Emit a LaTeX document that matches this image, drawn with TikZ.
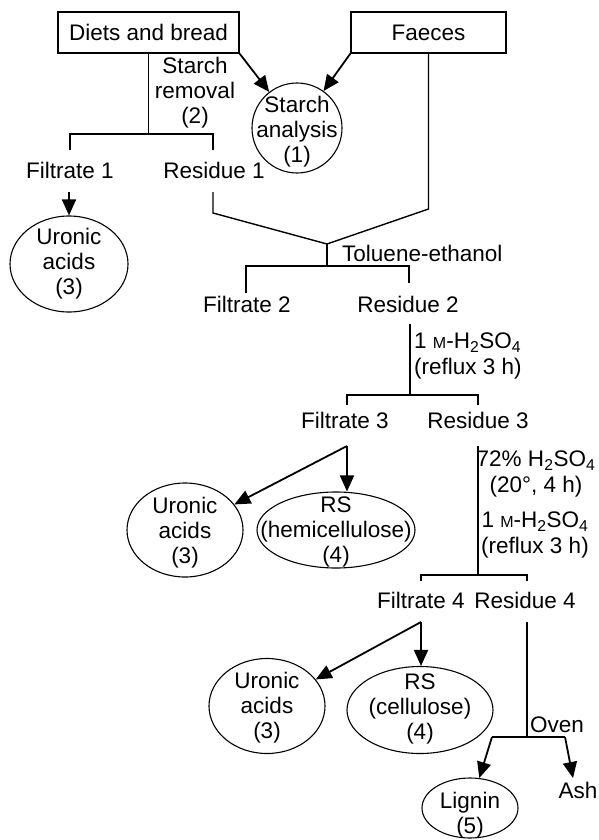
\documentclass[tikz,border=0pt]{standalone}
\usepackage{fontspec}
\setmainfont{Liberation Sans}
\usetikzlibrary{arrows.meta,shapes.geometric}
\newcommand{\smM}{{\fontsize{16}{16}\selectfont M}}
\begin{document}
\begin{tikzpicture}[x=1pt,y=-1pt,
  every node/.style={font=\fontsize{22.5}{25}\selectfont, inner sep=0pt},
  box/.style={draw, line width=1.5pt, minimum height=41pt},
  ell/.style={draw, ellipse, line width=1.1pt, inner sep=0pt},
  txt/.style={align=center},
  acid/.style={font=\fontsize{22.5}{25.5}\selectfont},
  ln/.style={line width=1.4pt},
  arr/.style={line width=1.8pt, -{Triangle[length=16pt,width=14pt]}}
]
\useasboundingbox (0,0) rectangle (598,840);

% top boxes
\node[box, minimum width=181pt] (diets) at (148.5,32.5) {Diets and bread};
\node[box, minimum width=155pt] (faeces) at (428.5,32.5) {Faeces};

% starch analysis
\node[ell, minimum width=90pt, minimum height=90pt] (sa) at (297,128) {};
\node[txt] (sat) at (297,132) {Starch\\analysis\\(1)};
\node[txt] (srem) at (195,93) {Starch\\removal\\(2)};

\draw[arr] (diets.south east) -- (sa);
\draw[arr] (faeces.south west) -- (sa);

% first split
\node (f1) at (70,170) {Filtrate 1};
\node (r1) at (214,170) {Residue 1};
\coordinate (j1) at (148.5,134);
\coordinate (j1l) at (70,134);
\coordinate (j1r) at (213,134);
\coordinate (f1t) at (70,150);
\coordinate (r1t) at (213,150);
\draw[ln] (diets.south) -- (j1);
\draw[ln] (f1t) -- (j1l) -- (j1r) -- (r1t);

% uronic acids 1
\node[ell, minimum width=118pt, minimum height=96pt] (u1) at (69,264) {};
\node[txt] (u1t) at (69,264) {Uronic\\acids\\(3)};
\coordinate (f1b) at (69,192);
\draw[arr] (f1b) -- (u1.north);

% merge to toluene-ethanol
\coordinate (r1b) at (213,192);
\coordinate (r1k) at (213,213);
\coordinate (fak) at (428.5,209);
\coordinate (jv) at (327,244);
\draw[ln] (r1b) -- (r1k) -- (jv) -- (fak) -- (faeces.south);
\node[anchor=west] (tol) at (342,253) {Toluene-ethanol};

\coordinate (j2) at (327,266);
\coordinate (j2l) at (246,266);
\coordinate (j2r) at (409,266);
\coordinate (f2t) at (246,293);
\coordinate (r2t) at (409,283);
\draw[ln] (jv) -- (j2);
\draw[ln] (f2t) -- (j2l) -- (j2r) -- (r2t);
\node (f2) at (247,304) {Filtrate 2};
\node (r2) at (408,304) {Residue 2};

% 1 M H2SO4
\coordinate (r2b) at (410,324);
\coordinate (j3) at (410,395);
\coordinate (j3l) at (347,395);
\coordinate (j3r) at (478,395);
\coordinate (f3t) at (347,405);
\coordinate (r3t) at (478,405);
\draw[ln] (r2b) -- (j3);
\draw[ln] (f3t) -- (j3l) -- (j3r) -- (r3t);
\node[acid, align=left, anchor=west] (acid1) at (414,356) {1 \smM-H\textsubscript{2}SO\textsubscript{4}\\(reflux 3 h)};

\node (f3) at (345,420) {Filtrate 3};
\node (r3) at (478,420) {Residue 3};

% filtrate 3 products
\node[ell, minimum width=116pt, minimum height=94pt] (u2) at (185,530) {};
\node[txt] (u2t) at (185,533) {Uronic\\acids\\(3)};
\node[ell, minimum width=158pt, minimum height=76pt] (rs1) at (336,530) {};
\node[txt] (rs1t) at (336,532) {RS\\(hemicellulose)\\(4)};
\coordinate (f3b) at (347,446);
\draw[arr] (f3b) -- (f3b |- rs1.north);
\draw[arr] (f3b) -- (u2);

% residue 3 treatment
\coordinate (r3b) at (478,446);
\coordinate (j4) at (478,575);
\coordinate (j4l) at (421,575);
\coordinate (j4r) at (527,575);
\coordinate (f4t) at (421,581);
\coordinate (r4t) at (527,581);
\draw[ln] (r3b) -- (j4);
\draw[ln] (f4t) -- (j4l) -- (j4r) -- (r4t);
\node[acid, txt] (acid2) at (536,474) {72\% H\textsubscript{2}SO\textsubscript{4}\\(20°, 4 h)};
\node[acid, txt] (acid3) at (535,535) {1 \smM-H\textsubscript{2}SO\textsubscript{4}\\(reflux 3 h)};

\node (f4) at (421,600) {Filtrate 4};
\node (r4) at (525,600) {Residue 4};

% filtrate 4 products
\node[ell, minimum width=116pt, minimum height=95pt] (u3) at (267,706) {};
\node[txt] (u3t) at (267,708) {Uronic\\acids\\(3)};
\node[ell, minimum width=146pt, minimum height=87pt] (rs2) at (420,710) {};
\node[txt] (rs2t) at (420,709) {RS\\(cellulose)\\(4)};
\coordinate (f4b) at (421,622);
\draw[arr] (f4b) -- (f4b |- rs2.north);
\draw[arr] (f4b) -- (u3);

% residue 4: oven
\coordinate (r4b) at (527,622);
\coordinate (j5) at (527,737);
\coordinate (j5l) at (492,737);
\coordinate (j5r) at (565,737);
\draw[ln] (r4b) -- (j5);
\draw[ln] (j5l) -- (j5r);
\node[anchor=west] (oven) at (530,725) {Oven};
\node[ell, minimum width=96pt, minimum height=60pt] (lig) at (470,808) {};
\node[txt] (ligt) at (470,815) {Lignin\\(5)};
\node (ash) at (578,790) {Ash};
\coordinate (asht) at (573,778);
\draw[arr] (j5l) -- (lig);
\draw[arr] (j5r) -- (asht);
\end{tikzpicture}
\end{document}
